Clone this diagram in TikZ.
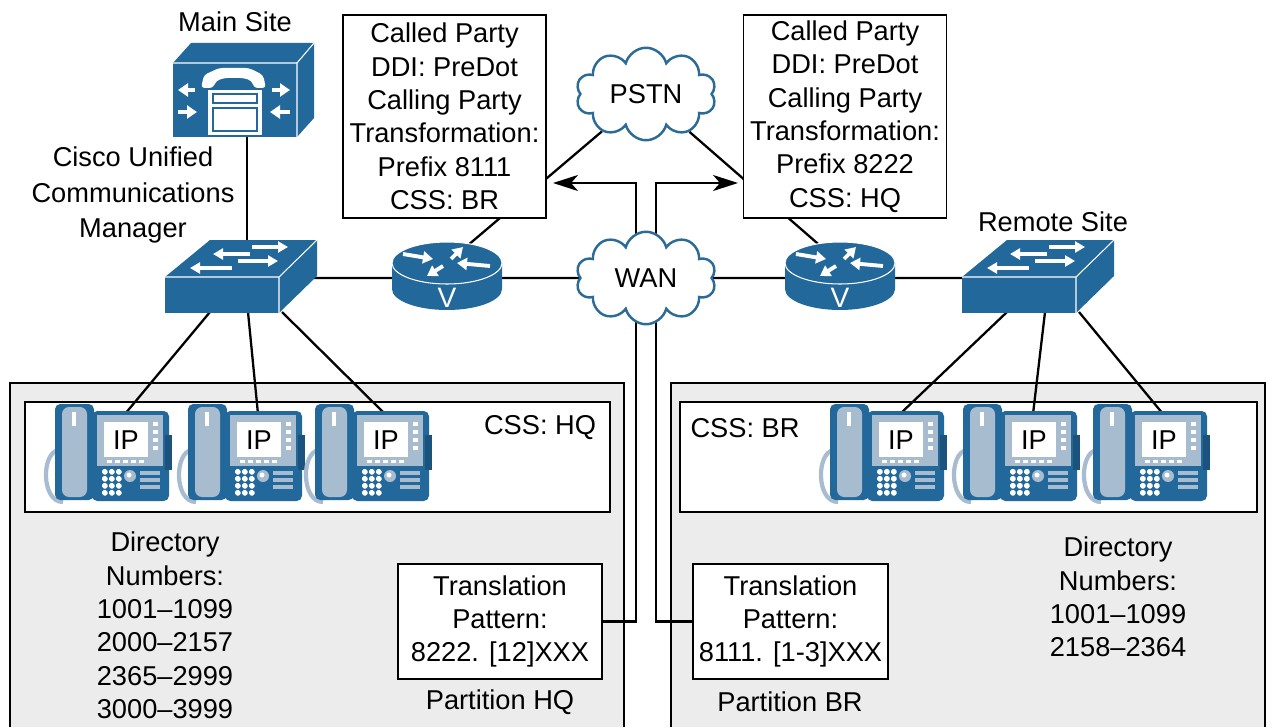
\documentclass[tikz,border=0pt]{standalone}
\usepackage{fontspec}
\setmainfont{Liberation Sans}
\usetikzlibrary{shapes.symbols,arrows.meta,calc,backgrounds}

\definecolor{ciscoblue}{HTML}{23689B}
\definecolor{phonegrey}{HTML}{A8BCD0}
\definecolor{cloudblue}{HTML}{2B6B95}
\definecolor{sitegrey}{HTML}{ECECEC}

\newcommand{\labelfont}{\fontsize{15.5}{19}\selectfont}

\tikzset{
  % workgroup switch, origin at the middle of the front face
  pics/switch/.style={code={
    \fill[ciscoblue] (-57,-18) rectangle (57,18);
    \fill[ciscoblue] (-57,-18) -- (-12,-55) -- (95,-55) -- (57,-18) -- cycle;
    \fill[ciscoblue] (57,-18) -- (95,-55) -- (95,-19) -- (57,18) -- cycle;
    \draw[white, line width=0.6pt] (-57,-18) -- (57,-18) -- (95,-55) (57,-18) -- (57,18);
    \draw[white, line width=2pt, -{Triangle[length=2mm,width=2.2mm]}] (30,-48) -- (66,-48);
    \draw[white, line width=2pt, -{Triangle[length=2mm,width=2.2mm]}] (28,-41) -- (-9,-41);
    \draw[white, line width=2pt, -{Triangle[length=2mm,width=2.2mm]}] (16,-34) -- (56,-34);
    \draw[white, line width=2pt, -{Triangle[length=2mm,width=2.2mm]}] (10,-27) -- (-32,-27);
    \coordinate (-up) at (25,-50);
    \coordinate (-link) at (70,-17);
    \coordinate (-b1) at (-12,17);
    \coordinate (-b2) at (26,17);
    \coordinate (-b3) at (60,17);
  }},
  % voice router, origin at the middle of the top face
  pics/router/.style={code={
    \fill[ciscoblue] (-55,0) -- (-55,26) arc[start angle=180, end angle=0, x radius=55, y radius=21] -- (55,0) -- cycle;
    \fill[ciscoblue] (0,0) ellipse[x radius=55, y radius=21];
    \draw[white, line width=0.6pt] (0,0) ellipse[x radius=55, y radius=21];
    \draw[white, line width=2.2pt, -{Triangle[length=2mm,width=2.4mm]}] (-44,-9) -- (-14,-4);
    \draw[white, line width=2.2pt, -{Triangle[length=2mm,width=2.4mm]}] (4,-4) -- (16,-16);
    \draw[white, line width=2.2pt, -{Triangle[length=2mm,width=2.4mm]}] (43,3) -- (10,0);
    \draw[white, line width=2.2pt, -{Triangle[length=2mm,width=2.4mm]}] (-4,3) -- (-20,13);
    \node[text=white, font=\fontsize{16}{16}\selectfont, inner sep=0pt] (-v) at (0,35) {V};
    \coordinate (-c) at (0,0);
    \coordinate (-link) at (0,15);
  }},
  % call manager server, origin at the middle of the front face
  pics/callmgr/.style={code={
    \fill[ciscoblue] (-62,-37) rectangle (62,37);
    \fill[ciscoblue] (-62,-37) -- (-44,-57) -- (79,-57) -- (62,-37) -- cycle;
    \fill[ciscoblue] (62,-37) -- (79,-57) -- (79,18) -- (62,37) -- cycle;
    \draw[white, line width=0.6pt] (-62,-37) -- (62,-37) -- (79,-57) (62,-37) -- (62,37);
    \fill[white, rounded corners=2pt] (-34,-12) -- (-31,-25) -- (-16,-32) -- (14,-32) -- (28,-25)
      -- (31,-12) -- (19,-12) -- (17,-19) -- (9,-22) -- (-11,-22) -- (-19,-19) -- (-22,-12) -- cycle;
    \fill[white] (-27,-10) rectangle (27,35);
    \draw[ciscoblue, line width=0.8pt] (-22,-6) rectangle (22,3) (-22,8) rectangle (22,31);
    \draw[white, line width=2.2pt, -{Triangle[length=2mm,width=2.6mm]}] (-40,-10) -- (-57,-10);
    \draw[white, line width=2.2pt, -{Triangle[length=2mm,width=2.6mm]}] (-57,12) -- (-38,12);
    \draw[white, line width=2.2pt, -{Triangle[length=2mm,width=2.6mm]}] (37,-10) -- (55,-10);
    \draw[white, line width=2.2pt, -{Triangle[length=2mm,width=2.6mm]}] (55,12) -- (35,12);
    \coordinate (-down) at (12,35);
  }},
  % IP phone, origin at the middle of the screen
  pics/ipphone/.style={code={
    \draw[phonegrey, line width=2.4pt] (-66,10) .. controls (-84,12) and (-84,62) .. (-62,62);
    \fill[ciscoblue, rounded corners=3pt] (-70,-36) rectangle (-31,60);
    \fill[phonegrey, rounded corners=4pt] (-63,-33) rectangle (-38,57);
    \fill[white] (-53,-28) rectangle (-49,-14);
    \fill[ciscoblue, rounded corners=3pt] (-33,-29) rectangle (44,61);
    \fill[ciscoblue!80!black] (40,-5) rectangle (47,30);
    \fill[phonegrey] (-28,-25) rectangle (38,26);
    \fill[white] (-21,-18) rectangle (23,17);
    \foreach \k in {0,1,2,3}
      \fill[white] (28,-18+8*\k) rectangle ++(5,4);
    \foreach \k in {0,1,2,3,4}
      \fill[white] (-18+8*\k,20) rectangle ++(5,3);
    \foreach \i in {0,1,2}
      \foreach \j in {0,1,2,3}
        \fill[white, rounded corners=1pt] (-23+7*\i,29+7*\j) rectangle ++(5.5,5.5);
    \fill[phonegrey] (5,36) circle[radius=6];
    \fill[white] (4,35) circle[radius=2.5];
    \foreach \k in {0,1,2}
      \fill[phonegrey] (15,31+7*\k) rectangle ++(20,4);
    \node[inner sep=0pt] (-ip) at (1,0) {IP};
    \coordinate (-top) at (0,-26);
  }}
}

\begin{document}
\begin{tikzpicture}[x=0.2mm, y=-0.2mm, font=\labelfont,
    link/.style={draw, line width=1.3pt},
    box/.style={draw, line width=1.1pt, fill=white, align=center, inner sep=0pt},
    net/.style={cloud, cloud puffs=10, aspect=1.5, draw=cloudblue, line width=1.4pt,
      fill=white, inner sep=0pt, minimum width=2.8cm, minimum height=1.85cm}]
  \useasboundingbox (0,0) rectangle (1272,727);

  % network devices
  \pic (cucm) at (235,100) {callmgr};
  \pic (swl) at (222,295) {switch};
  \pic (swr) at (1019,295) {switch};
  \pic (rtl) at (447,263) {router};
  \pic (rtr) at (840,263) {router};
  \node[net] (pstn) at (646,94) {PSTN};
  \node[net] (wan) at (646,278) {WAN};
  \coordinate (pl) at (553,183);
  \coordinate (pr) at (738,183);

  % phones
  \pic (hq1) at (125,440) {ipphone};
  \pic (hq2) at (258,440) {ipphone};
  \pic (hq3) at (385,440) {ipphone};
  \pic (br1) at (900,440) {ipphone};
  \pic (br2) at (1033,440) {ipphone};
  \pic (br3) at (1163,440) {ipphone};

  % gateway settings
  \node[box, minimum width=4.06cm, minimum height=4.06cm] (gwbr) at (444.5,116.5)
    {Called Party\\DDI: PreDot\\Calling Party\\Transformation:\\Prefix 8111\\CSS: BR};
  \node[box, minimum width=4.06cm, minimum height=4.06cm] (gwhq) at (845,116.5)
    {Called Party\\DDI: PreDot\\Calling Party\\Transformation:\\Prefix 8222\\CSS: HQ};

  % translation patterns
  \node[box, minimum width=4.08cm, minimum height=2.3cm] (tphq) at (500,621.5)
    {Translation\\Pattern:\\8222. [12]XXX};
  \node[box, minimum width=3.9cm, minimum height=2.3cm] (tpbr) at (790.5,621.5)
    {Translation\\Pattern:\\8111. [1-3]XXX};
  \node (pthq) at (500,702) {Partition HQ};
  \node (ptbr) at (790,702) {Partition BR};

  % labels
  \node (main) at (235,22) {Main Site};
  \node[align=center, font=\fontsize{15.5}{20}\selectfont] (cucmname) at (133,195)
    {Cisco Unified\\Communications\\Manager};
  \node (remote) at (1053,222) {Remote Site};
  \node (csshq) at (540,428) {CSS: HQ};
  \node (cssbr) at (745,428) {CSS: BR};
  \node[align=center] (dnhq) at (165,625.5)
    {Directory\\Numbers:\\1001--1099\\2000--2157\\2365--2999\\3000--3999};
  \node[align=center] (dnbr) at (1118,597)
    {Directory\\Numbers:\\1001--1099\\2158--2364};

  \begin{scope}[on background layer]
    % sites
    \fill[sitegrey] (10,383) rectangle (624,727);
    \fill[sitegrey] (671,383) rectangle (1265,727);
    \draw[line width=1.1pt] (10,727) -- (10,383) -- (624,383) -- (624,727);
    \draw[line width=1.1pt] (671,727) -- (671,383) -- (1265,383) -- (1265,727);
    \draw[line width=1.1pt, fill=white] (25,402) rectangle (610,512);
    \draw[line width=1.1pt, fill=white] (680,402) rectangle (1257,512);

    % links
    \draw[link] (cucm-down) -- (swl-up);
    \draw[link] (swl-link) -- (rtl-link) -- (wan) -- (rtr-link) -- (swr-link);
    \draw[link] (rtl-c) -- (pstn) -- (rtr-c);
    \draw[link] (swl-b1) -- (hq1-top);
    \draw[link] (swl-b2) -- (hq2-top);
    \draw[link] (swl-b3) -- (hq3-top);
    \draw[link] (swr-b1) -- (br1-top);
    \draw[link] (swr-b2) -- (br2-top);
    \draw[link] (swr-b3) -- (br3-top);
    \draw[link, -{Stealth[length=5mm, width=3.2mm, inset=1.4mm]}] ($(wan)+(-10,0)$) |- (pl);
    \draw[link, -{Stealth[length=5mm, width=3.2mm, inset=1.4mm]}] ($(wan)+(10,0)$) |- (pr);
    \draw[link] ($(wan)+(-10,0)$) |- (tphq.east);
    \draw[link] ($(wan)+(10,0)$) |- (tpbr.west);
  \end{scope}
\end{tikzpicture}
\end{document}
